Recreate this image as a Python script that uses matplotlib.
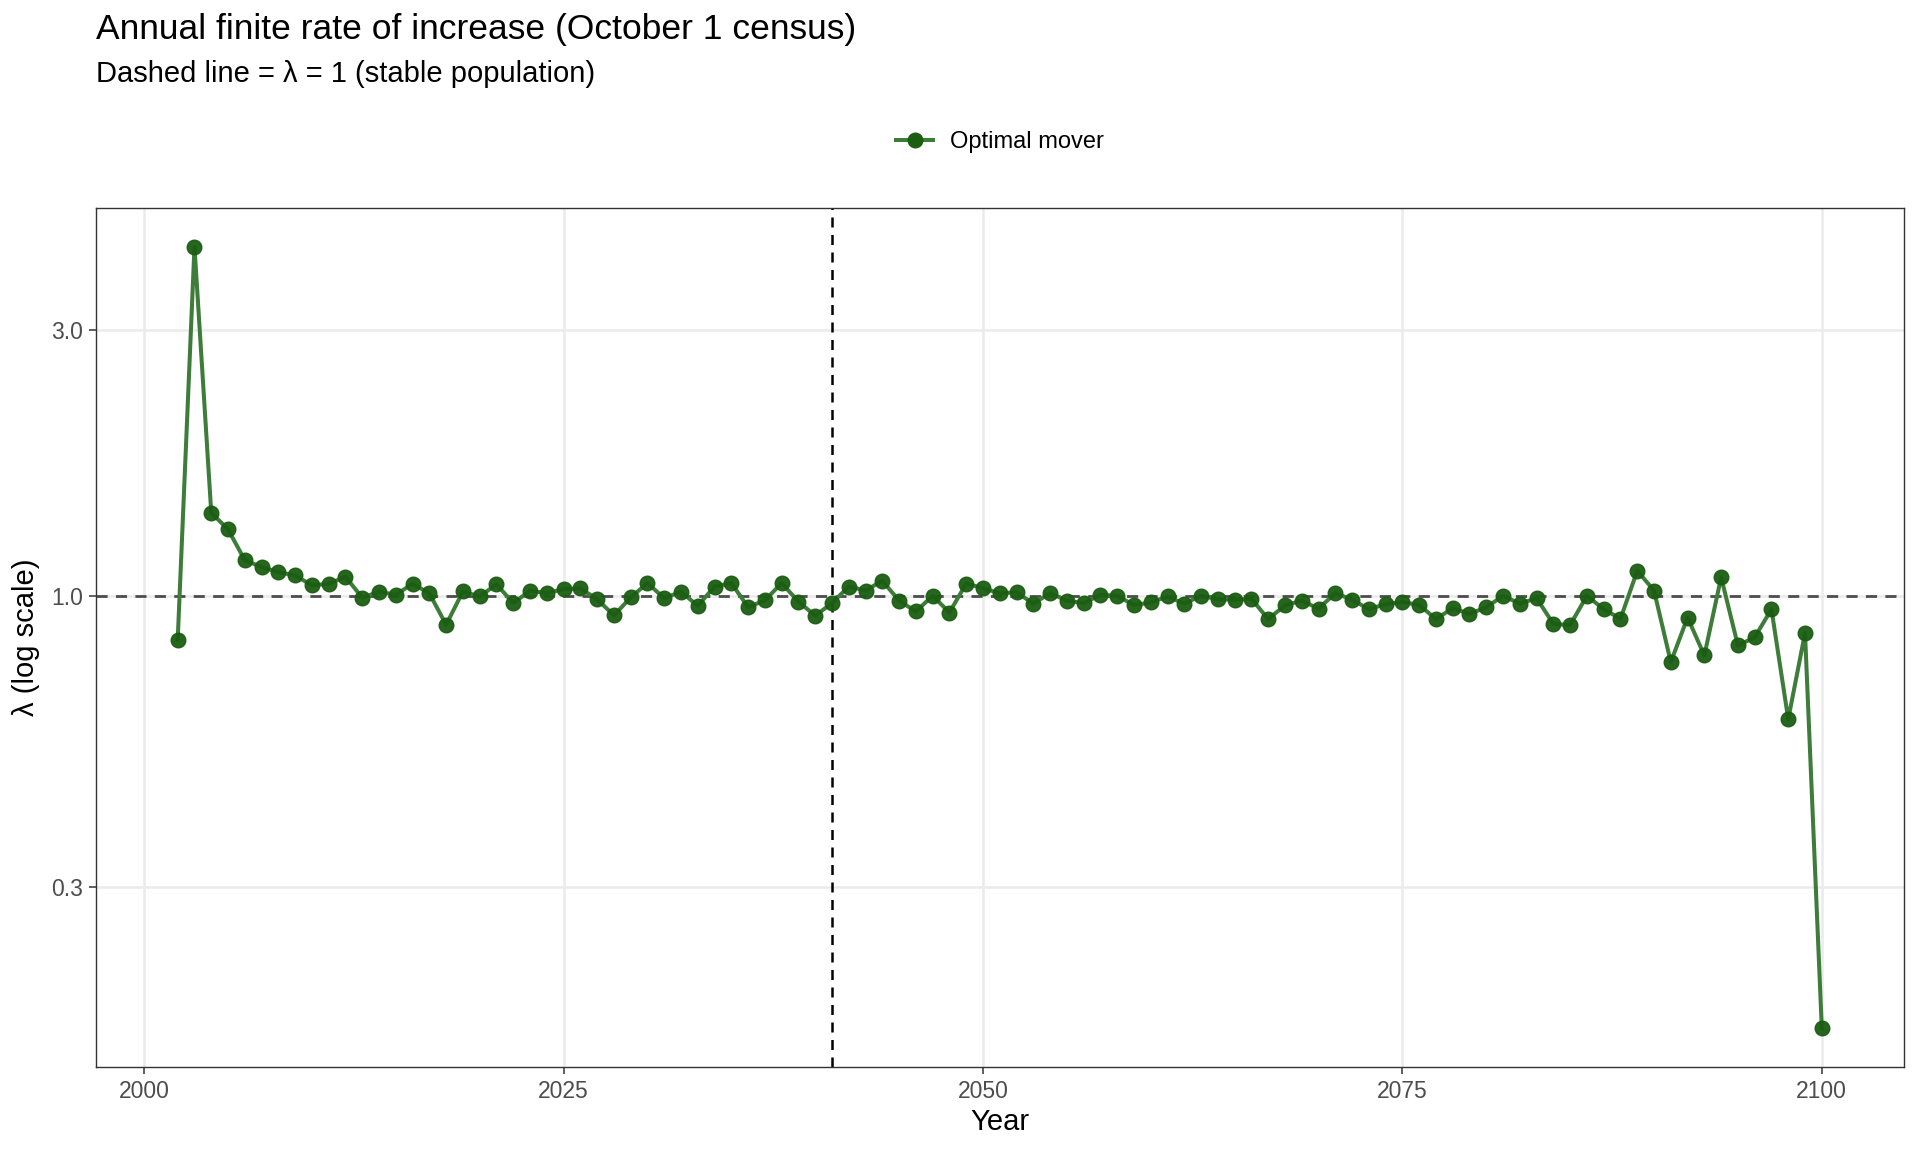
#!/usr/bin/env python3
"""Annual finite rate of increase (lambda) per October 1 census, log-scale y axis."""

import matplotlib

matplotlib.use("Agg")
import matplotlib.pyplot as plt
from matplotlib.lines import Line2D
from matplotlib.ticker import FixedLocator, NullLocator

plt.rcParams["font.family"] = ["Liberation Sans", "DejaVu Sans"]

years = list(range(2002, 2101))
lam = [
    0.834, 4.24, 1.41, 1.316, 1.159, 1.126, 1.103, 1.088, 1.044, 1.051,  # 2002-2011
    1.082, 0.992, 1.017, 1.004, 1.051, 1.010, 0.887, 1.018, 0.997, 1.049,  # 2012-2021
    0.970, 1.021, 1.011, 1.028, 1.031, 0.986, 0.922, 0.993, 1.054, 0.990,  # 2022-2031
    1.017, 0.959, 1.039, 1.054, 0.954, 0.981, 1.054, 0.976, 0.921, 0.970,  # 2032-2041
    1.039, 1.022, 1.064, 0.980, 0.937, 1.000, 0.933, 1.052, 1.032, 1.010,  # 2042-2051
    1.015, 0.968, 1.011, 0.980, 0.970, 1.004, 1.000, 0.962, 0.973, 0.997,  # 2052-2061
    0.968, 1.000, 0.986, 0.984, 0.988, 0.908, 0.961, 0.980, 0.948, 1.011,  # 2062-2071
    0.984, 0.946, 0.966, 0.974, 0.963, 0.908, 0.950, 0.928, 0.953, 1.000,  # 2072-2081
    0.968, 0.990, 0.890, 0.886, 1.000, 0.946, 0.909, 1.109, 1.022, 0.760,  # 2082-2091
    0.914, 0.781, 1.080, 0.814, 0.842, 0.946, 0.600, 0.857, 0.167,  # 2092-2100
]
series_label = "Optimal mover"
split_year = 2041
x_ticks = [2000, 2025, 2050, 2075, 2100]
y_ticks = [0.3, 1.0, 3.0]
y_tick_labels = ["0.3", "1.0", "3.0"]

W, H = 1920, 1152
LINE_C = "#3d7c39"
POINT_C = "#1b5e12"


def main() -> None:
    fig = plt.figure(figsize=(W / 100, H / 100), dpi=100)
    # panel placed in pixel terms, ggplot-like layout
    left, right, top, bottom = 95.5, 1904, 208, 1067
    ax = fig.add_axes([left / W, 1 - bottom / H, (right - left) / W, (bottom - top) / H])

    ax.set_yscale("log")
    ax.plot(years, lam, color=LINE_C, lw=2.9, zorder=3)
    ax.plot(years, lam, ls="none", marker="o", ms=10.5, color=POINT_C,
            mec=POINT_C, alpha=0.95, zorder=4)

    ax.axhline(1.0, color="#4d4d4d", ls=(0, (4, 3)), lw=2.0, zorder=2)
    ax.axvline(split_year, color="black", ls=(0, (4, 3)), lw=1.8, zorder=2)

    ax.set_xlim(1997.1, 2104.9)
    ax.set_ylim(10 ** -0.847, 10 ** 0.697)
    ax.xaxis.set_major_locator(FixedLocator(x_ticks))
    ax.yaxis.set_major_locator(FixedLocator(y_ticks))
    ax.yaxis.set_minor_locator(NullLocator())
    ax.set_yticklabels(y_tick_labels)

    ax.grid(True, which="major", color="#ebebeb", lw=1.8, zorder=0)
    ax.set_axisbelow(True)
    for sp in ax.spines.values():
        sp.set_color("#333333")
        sp.set_linewidth(1.0)
    ax.tick_params(axis="both", which="major", length=5, width=1.1, color="#333333",
                   labelsize=16.5, labelcolor="#4d4d4d", pad=4)

    ax.set_xlabel("Year", fontsize=21, labelpad=4)
    ax.set_ylabel("λ (log scale)", fontsize=21, labelpad=8)

    fig.text(left / W, 1 - 30 / H, "Annual finite rate of increase (October 1 census)",
             fontsize=25.5, va="center", ha="left")
    fig.text(left / W, 1 - 74 / H, "Dashed line = λ = 1 (stable population)",
             fontsize=21, va="center", ha="left")

    handle = Line2D([], [], color=LINE_C, lw=2.9, marker="o", ms=10.5,
                    mfc=POINT_C, mec=POINT_C)
    fig.legend([handle], [series_label], loc="center", frameon=False,
               bbox_to_anchor=((left + right) / 2 / W, 1 - 142 / H),
               fontsize=17, handlelength=1.6, handletextpad=0.7)

    fig.savefig("out.png", dpi=100)
    plt.close(fig)


if __name__ == "__main__":
    main()
